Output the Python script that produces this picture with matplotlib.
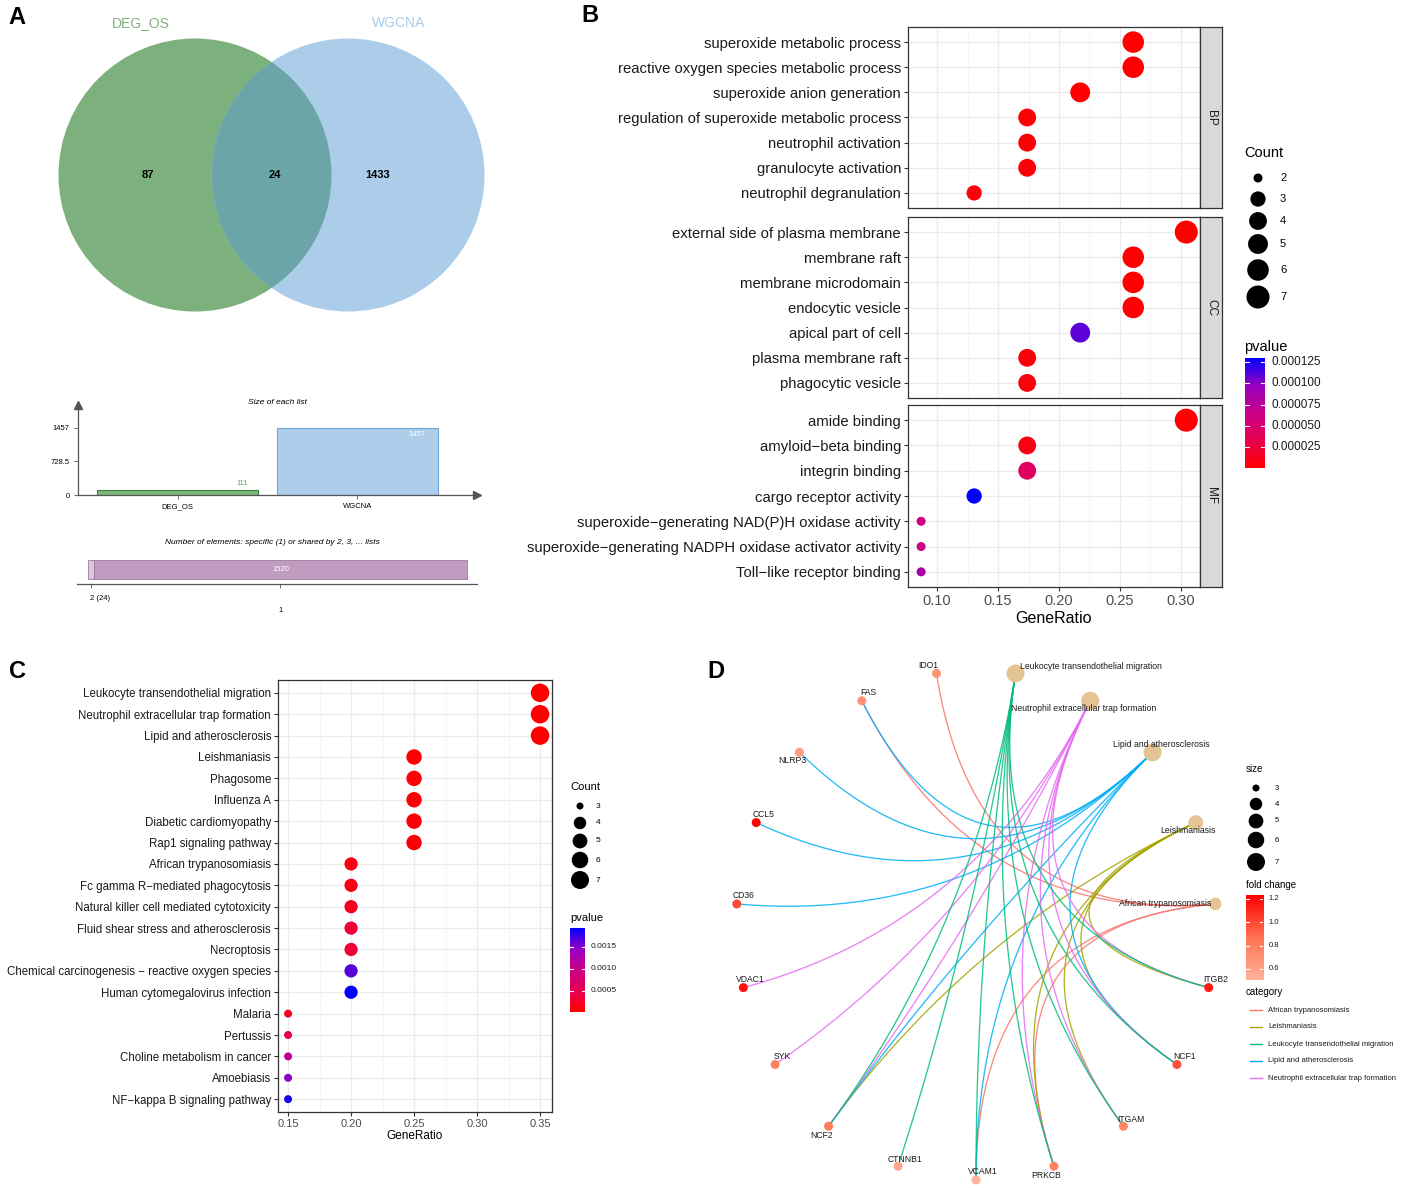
import numpy as np
import matplotlib
matplotlib.use("Agg")
import matplotlib.pyplot as plt
from matplotlib.patches import Circle
from matplotlib.colors import LinearSegmentedColormap, Normalize

plt.rcParams['font.family'] = ['Liberation Sans', 'DejaVu Sans']

W, H = 1417, 1188

# ---------------- panel A : venn + list sizes
venn_sets = ["DEG_OS", "WGCNA"]
venn_only = [87, 1433]
venn_shared = 24
list_sizes = [111, 1457]
shared_labels = ["2 (24)", "1"]
shared_counts = [24, 1520]

# ---------------- panel B : GO enrichment
go_total = 23
go_ont = ["BP", "CC", "MF"]
bp_terms = ["superoxide metabolic process", "reactive oxygen species metabolic process",
            "superoxide anion generation", "regulation of superoxide metabolic process",
            "neutrophil activation", "granulocyte activation", "neutrophil degranulation"]
bp_count = [6, 6, 5, 4, 4, 4, 3]
bp_pvalue = [2e-7, 1e-6, 3e-7, 2e-6, 3e-6, 4e-6, 5e-6]
cc_terms = ["external side of plasma membrane", "membrane raft", "membrane microdomain",
            "endocytic vesicle", "apical part of cell", "plasma membrane raft", "phagocytic vesicle"]
cc_count = [7, 6, 6, 6, 5, 4, 4]
cc_pvalue = [1e-8, 1e-6, 1e-6, 2e-6, 1.1e-4, 4e-6, 5e-6]
mf_terms = ["amide binding", "amyloid\u2212beta binding", "integrin binding", "cargo receptor activity",
            "superoxide\u2212generating NAD(P)H oxidase activity",
            "superoxide\u2212generating NADPH oxidase activator activity",
            "Toll\u2212like receptor binding"]
mf_count = [7, 4, 4, 3, 2, 2, 2]
mf_pvalue = [2e-7, 8e-6, 4.2e-5, 1.3e-4, 6.2e-5, 6.2e-5, 8.5e-5]

# ---------------- panel C : KEGG enrichment
kegg_total = 20
kegg_terms = ["Leukocyte transendothelial migration", "Neutrophil extracellular trap formation",
              "Lipid and atherosclerosis", "Leishmaniasis", "Phagosome", "Influenza A",
              "Diabetic cardiomyopathy", "Rap1 signaling pathway", "African trypanosomiasis",
              "Fc gamma R\u2212mediated phagocytosis", "Natural killer cell mediated cytotoxicity",
              "Fluid shear stress and atherosclerosis", "Necroptosis",
              "Chemical carcinogenesis \u2212 reactive oxygen species", "Human cytomegalovirus infection",
              "Malaria", "Pertussis", "Choline metabolism in cancer", "Amoebiasis",
              "NF\u2212kappa B signaling pathway"]
kegg_count = [7, 7, 7, 5, 5, 5, 5, 5, 4, 4, 4, 4, 4, 4, 4, 3, 3, 3, 3, 3]
kegg_pvalue = [2e-5, 2.5e-5, 3e-5, 4e-5, 5e-5, 6e-5, 7e-5, 8e-5, 1.2e-4, 1.5e-4, 2.2e-4,
               3.5e-4, 3.8e-4, 1.65e-3, 1.93e-3, 2.5e-4, 5.5e-4, 1.1e-3, 1.5e-3, 1.85e-3]

# ---------------- panel D : cnetplot
net_categories = ["African trypanosomiasis", "Leishmaniasis", "Lipid and atherosclerosis",
                  "Neutrophil extracellular trap formation", "Leukocyte transendothelial migration"]
net_cat_size = [4, 5, 7, 7, 7]
net_genes = ["IDO1", "FAS", "NLRP3", "CCL5", "CD36", "VDAC1", "SYK", "NCF2", "CTNNB1",
             "VCAM1", "PRKCB", "ITGAM", "NCF1", "ITGB2"]
gene_fc = [0.68, 0.70, 0.62, 1.234, 1.0, 1.18, 0.80, 0.82, 0.58, 0.505, 0.78, 0.78, 0.98, 1.15]
net_edges = {
    "African trypanosomiasis": ["IDO1", "FAS", "VCAM1", "PRKCB"],
    "Leishmaniasis": ["NCF2", "PRKCB", "ITGAM", "NCF1", "ITGB2"],
    "Lipid and atherosclerosis": ["FAS", "NLRP3", "CCL5", "CD36", "NCF2", "VCAM1", "NCF1"],
    "Neutrophil extracellular trap formation": ["VDAC1", "SYK", "NCF2", "PRKCB", "ITGAM", "NCF1", "ITGB2"],
    "Leukocyte transendothelial migration": ["NCF2", "CTNNB1", "VCAM1", "PRKCB", "ITGAM", "NCF1", "ITGB2"],
}
# legend order is alphabetical in ggplot
cat_legend = sorted(net_categories)
cat_colors = dict(zip(cat_legend, ["#F8766D", "#A3A500", "#00BF7D", "#00B0F6", "#E76BF3"]))

fig = plt.figure(figsize=(W / 100, H / 100), dpi=100)


def px_ax(x0, y0, x1, y1, **kw):
    return fig.add_axes([x0 / W, 1 - y1 / H, (x1 - x0) / W, (y1 - y0) / H], **kw)


def px_text(x, y, s, **kw):
    return fig.text(x / W, 1 - y / H, s, **kw)


def dot_area(c, cmin, cmax, dmin, dmax):
    c = np.asarray(c, dtype=float)
    d = dmin + (dmax - dmin) * np.sqrt((c - cmin) / (cmax - cmin))
    return (d * 0.72) ** 2


p_cmap = LinearSegmentedColormap.from_list(
    "pv", ["#FF0000", "#E8004F", "#C90088", "#9700C0", "#0000FF"])
fc_cmap = LinearSegmentedColormap.from_list("fc", ["#FFB299", "#FF7352", "#FF0000"])

EDGE = "#333333"
GRID = "#EBEBEB"


def colorbar(box, cmap, norm, ticks, labels, fs):
    cax = px_ax(*box)
    grad = np.linspace(0, 1, 256).reshape(-1, 1)
    cax.imshow(grad, cmap=cmap, aspect="auto", origin="lower",
               extent=[0, 1, norm.vmin, norm.vmax])
    cax.set_xlim(0, 1)
    cax.set_ylim(norm.vmin, norm.vmax)
    for t in ticks:
        cax.plot([0, 0.2], [t, t], color="white", lw=0.8)
        cax.plot([0.8, 1], [t, t], color="white", lw=0.8)
    for t, lab in zip(ticks, labels):
        cax.text(1.35, t, lab, fontsize=fs, va="center", ha="left",
                 transform=cax.get_yaxis_transform(), color="#1A1A1A")
    cax.set_xticks([])
    cax.set_yticks([])
    for s in cax.spines.values():
        s.set_visible(False)
    return cax


def style_panel(ax, xlim, major, minor):
    ax.set_xlim(*xlim)
    ax.set_xticks(major)
    ax.set_xticks(minor, minor=True)
    ax.grid(which="major", color=GRID, lw=0.9)
    ax.grid(which="minor", axis="x", color="#F3F3F3", lw=0.5)
    ax.set_axisbelow(True)
    for s in ax.spines.values():
        s.set_color(EDGE)
        s.set_linewidth(0.9)
    ax.tick_params(which="major", length=3, width=0.8, color=EDGE, pad=2)
    ax.tick_params(which="minor", length=0)


# ======================= panel A
ax = px_ax(0, 0, 570, 330)
ax.set_xlim(0, 570)
ax.set_ylim(330, 0)
ax.axis("off")
green_c = Circle((195, 175), 136.5, facecolor="#7CB07C", edgecolor="none")
blue_c = Circle((348, 175), 136.5, facecolor="#ABCDE9", edgecolor="none")
ax.add_patch(green_c)
ax.add_patch(blue_c)
inter = Circle((195, 175), 136.5, facecolor="#6BA5A8", edgecolor="none")
ax.add_patch(inter)
inter.set_clip_path(blue_c)
ax.text(141, 23, venn_sets[0], color="#7DB27D", fontsize=10, ha="center", va="center")
ax.text(399, 23, venn_sets[1], color="#A9CCEA", fontsize=10, ha="center", va="center")
ax.text(148, 175, str(venn_only[0]), fontsize=8, fontweight="bold", ha="center", va="center")
ax.text(275, 175, str(venn_shared), fontsize=8, fontweight="bold", ha="center", va="center")
ax.text(378, 175, str(venn_only[1]), fontsize=8, fontweight="bold", ha="center", va="center")

# size of each list
ax = px_ax(78, 405, 477, 495)
ax.set_xlim(0.447, 2.664)
ax.set_ylim(0, 1957)
xpos = np.arange(1, len(list_sizes) + 1)
ax.bar(xpos, list_sizes, width=0.894, color=["#7CB67A", "#AECDEA"],
       edgecolor=["#3A7F3A", "#6FA6D6"], linewidth=0.8)
for s in ["top", "right"]:
    ax.spines[s].set_visible(False)
for s in ["left", "bottom"]:
    ax.spines[s].set_color("#555555")
    ax.spines[s].set_linewidth(0.9)
ax.plot(1, 0, ">", color="#555555", ms=6, transform=ax.transAxes, clip_on=False)
ax.plot(0, 1, "^", color="#555555", ms=6, transform=ax.transAxes, clip_on=False)
ax.set_yticks([0, list_sizes[1] / 2, list_sizes[1]])
ax.set_yticklabels(["0", "728.5", "1457"], fontsize=5.5)
ax.set_xticks(xpos)
ax.set_xticklabels(venn_sets, fontsize=5.5)
ax.tick_params(length=3, width=0.6, color="#555555", pad=3)
ax.text(xpos[0] + 0.39, list_sizes[0] + 60, str(list_sizes[0]), color="#5FA05F", fontsize=5.5,
        ha="right", va="bottom")
ax.text(xpos[1] + 0.38, list_sizes[1] - 70, str(list_sizes[1]), color="white", fontsize=5.5,
        ha="right", va="top")
px_text(277, 402, "Size of each list", fontsize=6, style="italic", ha="center", va="center")

# shared elements
ax = px_ax(77, 555, 477, 584)
ax.set_xlim(-44.8, 1584.7)
ax.set_ylim(0, 1)
lefts = np.concatenate([[0], np.cumsum(shared_counts)[:-1]])
ax.barh(0.5, shared_counts, left=lefts, height=0.68, color=["#DCC6DC", "#C09CC0"],
        edgecolor="#9E7A9E", linewidth=0.6)
ax.text(lefts[1] + shared_counts[1] / 2, 0.5, str(shared_counts[1]), color="white",
        fontsize=5.5, ha="center", va="center")
for s in ["top", "right", "left"]:
    ax.spines[s].set_visible(False)
ax.spines["bottom"].set_color("#555555")
ax.spines["bottom"].set_linewidth(0.9)
ax.set_yticks([])
mids = lefts + np.array(shared_counts) / 2
ax.set_xticks(mids)
ax.set_xticklabels([])
ax.tick_params(length=3, width=0.6, color="#555555")
ax.text(mids[0] - 4, -0.5, shared_labels[0], fontsize=5.5, ha="left", va="center")
ax.text(mids[1], -0.9, shared_labels[1], fontsize=5.5, ha="center", va="center")
px_text(272, 542, "Number of elements: specific (1) or shared by 2, 3, ... lists",
        fontsize=6, style="italic", ha="center", va="center")

# ======================= panel B
b_terms = [bp_terms, cc_terms, mf_terms]
b_counts = [bp_count, cc_count, mf_count]
b_pvals = [bp_pvalue, cc_pvalue, mf_pvalue]
all_p = np.concatenate(b_pvals)
b_norm = Normalize(vmin=all_p.min(), vmax=all_p.max())
all_c = np.concatenate(b_counts)
b_boxes = [(27, 208), (217, 398), (405, 587)]
for i, (y0, y1) in enumerate(b_boxes):
    ax = px_ax(908, y0, 1200, y1)
    n = len(b_terms[i])
    yy = np.arange(1, n + 1)
    ratio = np.array(b_counts[i]) / go_total
    style_panel(ax, (0.0762, 0.3156), [0.10, 0.15, 0.20, 0.25, 0.30],
                [0.125, 0.175, 0.225, 0.275])
    ax.set_ylim(n + 0.6, 0.4)
    ax.scatter(ratio, yy, s=dot_area(b_counts[i], all_c.min(), all_c.max(), 9, 23),
               c=b_pvals[i], cmap=p_cmap, norm=b_norm, edgecolors="none", zorder=3)
    ax.set_yticks(yy)
    ax.set_yticklabels(b_terms[i], fontsize=10.7, color="#1A1A1A")
    if i < 2:
        ax.tick_params(axis="x", which="both", length=0, labelbottom=False)
    else:
        ax.set_xticklabels(["0.10", "0.15", "0.20", "0.25", "0.30"], fontsize=10.5, color="#4D4D4D")
        ax.set_xlabel("GeneRatio", fontsize=11.5, labelpad=2)
    sax = px_ax(1200, y0, 1222, y1)
    sax.set_facecolor("#D9D9D9")
    sax.set_xticks([])
    sax.set_yticks([])
    for s in sax.spines.values():
        s.set_color(EDGE)
        s.set_linewidth(0.9)
    sax.text(0.5, 0.5, go_ont[i], rotation=270, ha="center", va="center",
             fontsize=8.5, color="#1A1A1A", transform=sax.transAxes)

# legend B
lax = px_ax(1230, 140, 1417, 340)
lax.set_xlim(1230, 1417)
lax.set_ylim(340, 140)
lax.axis("off")
lax.text(1244, 153, "Count", fontsize=10.5, va="center")
leg_counts = np.arange(all_c.min(), all_c.max() + 1)
leg_y = [178, 199, 221, 244, 270, 297]
lax.scatter([1258] * len(leg_counts), leg_y, s=dot_area(leg_counts, all_c.min(), all_c.max(), 9, 23),
            color="black", edgecolors="none")
for c, y in zip(leg_counts, leg_y):
    lax.text(1280, y, str(c), fontsize=8, va="center")
px_text(1244, 347, "pvalue", fontsize=10.5, va="center")
bt = [0.000025, 0.000050, 0.000075, 0.000100, 0.000125]
colorbar((1245, 358, 1265, 468), p_cmap, b_norm, bt, ["%.6f" % t for t in bt], 8.5)

# ======================= panel C
ax = px_ax(278, 680, 552, 1112)
n = len(kegg_terms)
yy = np.arange(1, n + 1)
c_norm = Normalize(vmin=min(kegg_pvalue), vmax=max(kegg_pvalue))
style_panel(ax, (0.142, 0.3595), [0.15, 0.20, 0.25, 0.30, 0.35], [0.175, 0.225, 0.275, 0.325])
ax.set_ylim(n + 0.6, 0.4)
ax.scatter(np.array(kegg_count) / kegg_total, yy,
           s=dot_area(kegg_count, min(kegg_count), max(kegg_count), 8, 18.5),
           c=kegg_pvalue, cmap=p_cmap, norm=c_norm, edgecolors="none", zorder=3)
ax.set_yticks(yy)
ax.set_yticklabels(kegg_terms, fontsize=8.3, color="#1A1A1A")
ax.set_xticklabels(["0.15", "0.20", "0.25", "0.30", "0.35"], fontsize=8, color="#4D4D4D")
ax.set_xlabel("GeneRatio", fontsize=8.5, labelpad=1)

lax = px_ax(560, 775, 660, 895)
lax.set_xlim(560, 660)
lax.set_ylim(895, 775)
lax.axis("off")
lax.text(570, 787, "Count", fontsize=8, va="center")
leg_counts = np.arange(min(kegg_count), max(kegg_count) + 1)
leg_y = [806, 823, 841, 860, 880]
lax.scatter([580] * len(leg_counts), leg_y,
            s=dot_area(leg_counts, min(kegg_count), max(kegg_count), 7, 18),
            color="black", edgecolors="none")
for c, y in zip(leg_counts, leg_y):
    lax.text(596, y, str(c), fontsize=6, va="center")
px_text(570, 918, "pvalue", fontsize=8, va="center")
ct = [0.0005, 0.0010, 0.0015]
colorbar((570, 928, 585, 1012), p_cmap, c_norm, ct, ["%.4f" % t for t in ct], 6)

# ======================= panel D
ax = px_ax(700, 640, 1240, 1190)
ax.set_xlim((700 - 976) / 240, (1240 - 976) / 240)
ax.set_ylim((925 - 1190) / 255, (925 - 640) / 255)
ax.axis("off")
nodes = net_categories + net_genes
step = 2 * np.pi / len(nodes)
start = 1.5 * np.pi - nodes.index("VCAM1") * step
ang = start + np.arange(len(nodes)) * step
pos = {nm: (np.cos(a), np.sin(a)) for nm, a in zip(nodes, ang)}

t = np.linspace(0, 1, 80)[:, None]
for cat in net_categories:
    for g in net_edges[cat]:
        p0 = np.array(pos[cat])
        p2 = np.array(pos[g])
        curve = (1 - t) ** 2 * p0 + t ** 2 * p2  # control point at circle centre
        ax.plot(curve[:, 0], curve[:, 1], color=cat_colors[cat], lw=0.95, alpha=0.85,
                solid_capstyle="round", zorder=1)

size_min, size_max = 3, 7
ax.scatter([pos[c][0] for c in net_categories], [pos[c][1] for c in net_categories],
           s=dot_area(net_cat_size, size_min, size_max, 7, 18), color="#E5C494",
           edgecolors="none", zorder=3)
fc_norm = Normalize(vmin=min(gene_fc), vmax=max(gene_fc))
ax.scatter([pos[g][0] for g in net_genes], [pos[g][1] for g in net_genes],
           s=(9 * 0.72) ** 2, c=gene_fc, cmap=fc_cmap, norm=fc_norm, edgecolors="none", zorder=3)

label_off = {
    "Leukocyte transendothelial migration": (4, -7, "left"),
    "Neutrophil extracellular trap formation": (-7, 8, "center"),
    "Lipid and atherosclerosis": (9, -8, "center"),
    "Leishmaniasis": (-8, 8, "center"),
    "African trypanosomiasis": (-4, 0, "right"),
    "IDO1": (-8, -8, "center"), "FAS": (7, -8, "center"), "NLRP3": (-7, 8, "center"),
    "CCL5": (7, -8, "center"), "CD36": (7, -8, "center"), "VDAC1": (7, -8, "center"),
    "SYK": (7, -8, "center"), "NCF2": (-7, 9, "center"), "CTNNB1": (7, -7, "center"),
    "VCAM1": (7, -8, "center"), "PRKCB": (-8, 9, "center"), "ITGAM": (8, -7, "center"),
    "NCF1": (8, -8, "center"), "ITGB2": (7, -8, "center"),
}
for nm in nodes:
    dx, dy, ha = label_off[nm]
    ax.annotate(nm, xy=pos[nm], xytext=(dx * 0.72, -dy * 0.72), textcoords="offset points",
                fontsize=6.2, ha=ha, va="center", color="#1A1A1A", zorder=4)

lax = px_ax(1235, 760, 1417, 1090)
lax.set_xlim(1235, 1417)
lax.set_ylim(1090, 760)
lax.axis("off")
lax.text(1246, 769, "size", fontsize=7, va="center")
leg_sizes = np.arange(size_min, size_max + 1)
leg_y = [788, 804, 821, 840, 862]
lax.scatter([1256] * len(leg_sizes), leg_y, s=dot_area(leg_sizes, size_min, size_max, 7, 18),
            color="black", edgecolors="none")
for c, y in zip(leg_sizes, leg_y):
    lax.text(1275, y, str(c), fontsize=5.5, va="center")
lax.text(1246, 885, "fold change", fontsize=7, va="center")
lax.text(1246, 992, "category", fontsize=7, va="center")
for k, cat in enumerate(cat_legend):
    y = 1010 + k * 17
    lax.plot([1250, 1262], [y, y], color=cat_colors[cat], lw=1.0)
    lax.text(1268, y, cat, fontsize=5.5, va="center", color="#1A1A1A")
ft = [0.6, 0.8, 1.0, 1.2]
colorbar((1246, 895, 1263, 980), fc_cmap, fc_norm, ft, ["%.1f" % v for v in ft], 5.5)

# panel letters
for lab, x, y in [("A", 17, 18), ("B", 590, 15), ("C", 18, 671), ("D", 716, 672)]:
    px_text(x, y, lab, fontsize=17, fontweight="bold", ha="center", va="center")

fig.savefig("out.png", dpi=100)
